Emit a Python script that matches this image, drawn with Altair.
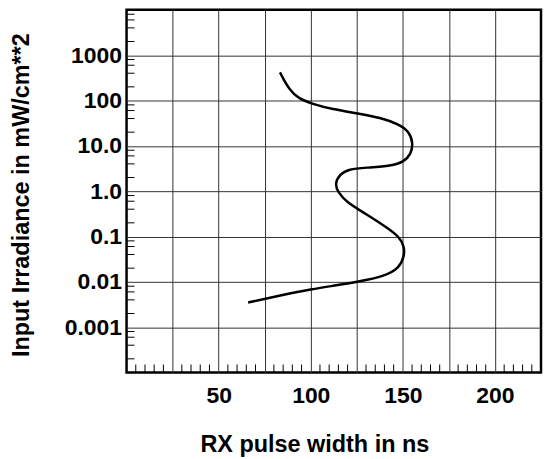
import altair as alt
import pandas as pd

# Curve (x: RX pulse width in ns, y: input irradiance in mW/cm**2)
pulse_ns = [83.3, 85.5, 88.2, 93.0, 100.8, 111.6, 125.7, 138.6, 147.7, 153.3, 155.6,
            154.4, 150.6, 144.1, 129.6, 120.6, 115.8, 113.0, 114.8, 119.2, 129.6,
            140.5, 148.0, 150.8, 150.8, 148.0, 140.5, 125.7, 111.6, 100.8, 84.5, 66.0]
irradiance = [417, 280, 182, 112, 84, 64, 52, 41, 30, 21, 11.7,
              6.5, 4.5, 3.6, 3.3, 3.05, 2.38, 1.45, 0.95, 0.58, 0.32,
              0.166, 0.10, 0.06, 0.037, 0.020, 0.0135, 0.0100, 0.0081, 0.0069, 0.0051, 0.0035]

x_grid = [25, 50, 75, 100, 125, 150, 175, 200]
y_grid = [0.001, 0.01, 0.1, 1, 10, 100, 1000]
x_minor = [v for v in range(5, 225, 5) if v % 25 != 0]
y_minor = [m * 10.0 ** k for k in range(-4, 4) for m in (2, 4, 6, 8)]

W, H = 416, 364
FONT = "Liberation Sans"

df = pd.DataFrame({"x": pulse_ns, "y": irradiance, "order": list(range(len(pulse_ns)))})

xscale = alt.Scale(domain=[0, 225], nice=False, zero=False)
yscale = alt.Scale(type="log", domain=[1e-4, 1e4], nice=False)

xaxis = alt.Axis(
    values=x_grid,
    labelExpr="datum.value % 50 == 0 ? format(datum.value, 'd') : ''",
    title="RX pulse width in ns",
    labelPadding=12,
    titleX=188.5, titleY=79, titleAlign="center", titleBaseline="alphabetic",
)
yaxis = alt.Axis(
    values=y_grid,
    labelExpr="datum.value >= 100 ? format(datum.value, 'd') : (datum.value >= 1 ? format(datum.value, '.1f') : format(datum.value, '~g'))",
    title="Input Irradiance in mW/cm**2",
    labelPadding=5,
    titleX=-98, titleY=185.5, titleAlign="center", titleBaseline="alphabetic",
)

line = alt.Chart(df).mark_line(color="black", strokeWidth=2.5, interpolate="basis").encode(
    x=alt.X("x:Q", scale=xscale, axis=xaxis),
    y=alt.Y("y:Q", scale=yscale, axis=yaxis),
    order="order:Q",
)

xm = alt.Chart(pd.DataFrame({"x": x_minor})).mark_rule(color="black", strokeWidth=1).encode(
    x=alt.X("x:Q", scale=xscale),
    y=alt.value(H),
    y2=alt.value(H - 8),
)

ym = alt.Chart(pd.DataFrame({"y": y_minor})).mark_rule(color="black", strokeWidth=1).encode(
    y=alt.Y("y:Q", scale=yscale),
    x=alt.value(0),
    x2=alt.value(8),
)

chart = alt.layer(line, xm, ym).properties(
    width=W, height=H,
    autosize=alt.AutoSizeParams(type="none"),
    padding={"left": 119, "top": 1, "right": 2, "bottom": 86},
).configure_view(
    stroke="black", strokeWidth=2.5
).configure_axis(
    domain=False, ticks=False, grid=True, gridColor="#333333", gridWidth=1, gridOpacity=1,
    labelFont=FONT, labelFontSize=23, labelFontWeight="bold", labelColor="black",
    titleFont=FONT, titleFontSize=23.5, titleFontWeight="bold", titleColor="black",
)

chart.save("out.html", embed_options={"renderer": "svg", "actions": False})
